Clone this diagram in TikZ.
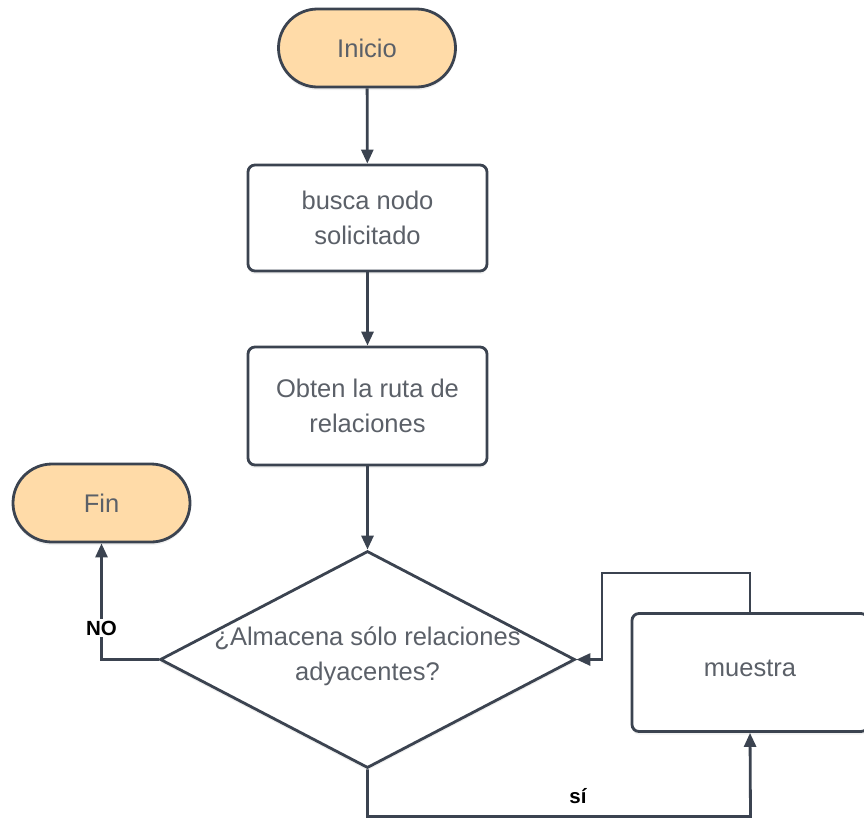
\documentclass[tikz,border=0pt]{standalone}
\usepackage{fontspec}
\setmainfont{Liberation Sans}
\usetikzlibrary{arrows.meta,shapes.misc,shapes.geometric,shadows}

\definecolor{edge}{HTML}{3B4350}
\definecolor{term}{HTML}{FFDBA8}
\definecolor{txt}{HTML}{5B6068}

\tikzset{
  box/.style={draw=edge, line width=2.8pt, fill=white, rounded corners=7pt,
    minimum width=239pt, inner sep=0pt, align=center, text=txt,
    font=\fontsize{25.5}{35}\selectfont,
    drop shadow={opacity=0.12, shadow xshift=0pt, shadow yshift=-3pt}},
  term/.style={draw=edge, line width=2.8pt, fill=term, rounded rectangle,
    minimum width=177pt, minimum height=78pt, inner sep=0pt, text=txt,
    font=\fontsize{25.5}{30}\selectfont,
    drop shadow={opacity=0.12, shadow xshift=0pt, shadow yshift=-3pt}},
  decision/.style={draw=edge, line width=2.8pt, fill=white, diamond,
    minimum width=415pt, minimum height=217pt, inner sep=0pt,
    drop shadow={opacity=0.12, shadow xshift=0pt, shadow yshift=-3pt}},
  conn/.style={draw=edge, line width=2.8pt,
    -{Triangle[length=14pt,width=12pt]}},
  lbl/.style={fill=white, inner sep=2pt, text=black,
    font=\fontsize{20.5}{24}\selectfont\bfseries},
}

\begin{document}
\begin{tikzpicture}[x=1pt, y=-1pt]
  \useasboundingbox (0,0) rectangle (864,820);
  \clip (0,0) rectangle (864,820);

  % nodes
  \node[term] (inicio) at (367,48) {Inicio};
  \node[box, minimum height=106pt] (busca) at (367.5,218) {busca nodo\\solicitado};
  \node[box, minimum height=118pt] (ruta) at (367.5,406) {Obten la ruta de\\relaciones};
  \node[decision] (dec) at (367.5,659.5) {};
  \node[align=center, text=txt, font=\fontsize{25.5}{35}\selectfont] (pregunta)
    at (367.5,656) {¿Almacena sólo relaciones\\adyacentes?};
  \node[term] (fin) at (101.5,503) {Fin};
  \node[box, minimum width=236pt, minimum height=118pt] (muestra) at (750,672.5) {};
  \node[text=txt, font=\fontsize{25.5}{30}\selectfont] (mtxt) at (750,668) {muestra};

  % helper points for the elbow routes
  \coordinate (loopA) at (602,573);
  \coordinate (siB) at (750.5,816.5);

  % connectors
  \draw[conn] (inicio) -- (busca);
  \draw[conn] (busca) -- (ruta);
  \draw[conn] (ruta) -- (dec.north);
  \draw[conn] (dec.west) -| (fin.south);
  \draw[conn] (muestra.north) |- (loopA) |- (dec.east);
  \draw[conn] (dec.south) |- (siB) -- (muestra.south);

  % branch labels
  \node[lbl] (no) at (101.5,628) {NO};
  \node[text=black, inner sep=1pt, font=\fontsize{20.5}{24}\selectfont\bfseries]
    (si) at (578,796) {sí};
\end{tikzpicture}
\end{document}
